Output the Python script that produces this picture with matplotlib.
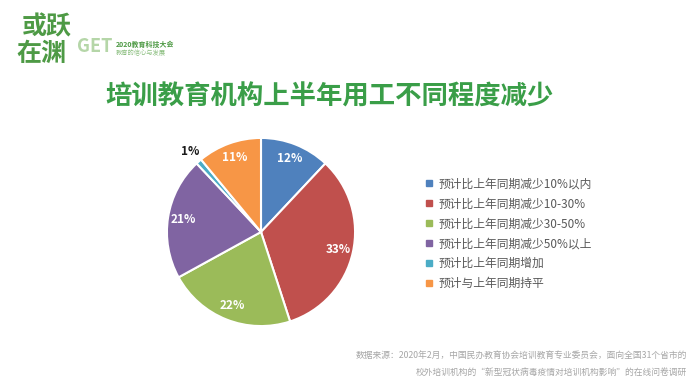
import numpy as np
import matplotlib.pyplot as plt
from matplotlib.lines import Line2D

plt.rcParams['font.family'] = ['Noto Sans CJK SC', 'DejaVu Sans']

# Data
categories = ['预计比上年同期减少10%以内', '预计比上年同期减少10-30%', '预计比上年同期减少30-50%',
              '预计比上年同期减少50%以上', '预计比上年同期增加', '预计与上年同期持平']
shares = [12, 33, 22, 21, 1, 11]
colors = ['#4F81BD', '#C0504D', '#9BBB59', '#8064A2', '#4BACC6', '#F79646']

title = '培训教育机构上半年用工不同程度减少'
source_lines = ['数据来源：2020年2月，中国民办教育协会培训教育专业委员会，面向全国31个省市的',
                '校外培训机构的“新型冠状病毒疫情对培训机构影响”的在线问卷调研']

W, H = 700, 388
fig = plt.figure(figsize=(W / 100, H / 100), dpi=100)
fig.patch.set_facecolor('white')

def fx(px):
    return px / W

def fy(py):
    return 1 - py / H

# Pie
cx, cy, r = 261, 232, 95
ax = fig.add_axes([fx(cx - r), fy(cy + r), 2 * r / W, 2 * r / H])
wedges, _ = ax.pie(shares, colors=colors, startangle=90, counterclock=False,
                   wedgeprops=dict(edgecolor='white', linewidth=1.5))
ax.set_xlim(-1.01, 1.01)
ax.set_ylim(-1.01, 1.01)
ax.set_aspect('equal')

for w, v in zip(wedges, shares):
    ang = np.deg2rad((w.theta1 + w.theta2) / 2)
    if v < 3:
        d, col = 1.14, '#1a1a1a'
    else:
        d, col = 0.84, 'white'
    ax.text(d * np.cos(ang), d * np.sin(ang), f'{v}%', ha='center', va='center',
            color=col, fontsize=8.5, fontweight='bold', clip_on=False)

# Legend
handles = [Line2D([], [], marker='s', linestyle='none', markersize=4,
                  markerfacecolor=c, markeredgecolor=c) for c in colors]
fig.legend(handles, categories, loc='upper left', bbox_to_anchor=(fx(415), fy(167)),
           frameon=False, fontsize=8.5, labelspacing=0.58, handlelength=0.6,
           handletextpad=0.5, labelcolor='#595959')

# Title
fig.text(fx(330), fy(97), title, ha='center', va='center', fontsize=19,
         fontweight='bold', color='#3A9E48')

# Logo
green = '#4E9A45'
fig.text(fx(22), fy(27), '或跃', fontsize=18, fontweight='bold', color=green,
         va='center', ha='left', style='italic')
fig.text(fx(16), fy(54), '在渊', fontsize=18, fontweight='bold', color=green,
         va='center', ha='left', style='italic')
fig.text(fx(77), fy(47), 'GET', fontsize=13, fontweight='bold', color='#B5D6A8',
         va='center', ha='left')
fig.text(fx(116), fy(44), '2020教育科技大会', fontsize=5, fontweight='bold',
         color=green, va='center', ha='left')
fig.text(fx(116), fy(53), '教育的信心与发展', fontsize=4.5, color='#8CBF80',
         va='center', ha='left')

# Source
fig.text(fx(687), fy(356), source_lines[0], ha='right', va='center', fontsize=6.3,
         color='#A6A6A6')
fig.text(fx(687), fy(372), source_lines[1], ha='right', va='center', fontsize=6.3,
         color='#A6A6A6')

fig.savefig('out.png', dpi=100)
